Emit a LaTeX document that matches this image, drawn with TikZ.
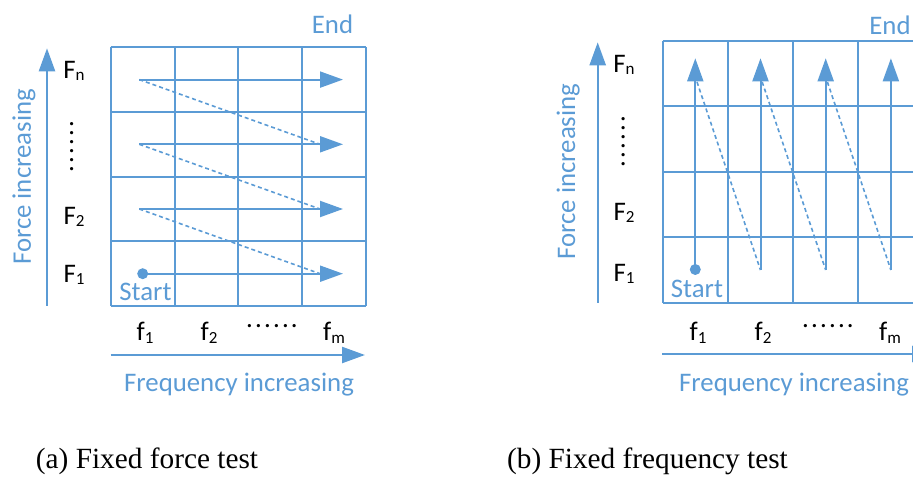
\documentclass[tikz,border=0pt]{standalone}
\usepackage{fontspec}
\setmainfont{Carlito}
\newfontfamily\capfont{Liberation Serif}
\usetikzlibrary{arrows.meta}
\definecolor{ob}{RGB}{91,155,213}
\newcommand{\sbs}[1]{\raisebox{-2.6pt}{\fontsize{17}{17}\selectfont #1}}
\begin{document}
\begin{tikzpicture}[x=1pt,y=-1pt,
 gridline/.style={ob,line width=2pt},
 flow/.style={ob,line width=2pt,-{Triangle[length=23pt,width=16pt]}},
 retline/.style={ob,line width=1.6pt,dash pattern=on 4pt off 3pt},
 axisline/.style={ob,line width=2.4pt,-{Triangle[length=23pt,width=16pt]}},
 bluetxt/.style={ob,font=\fontsize{26.8}{30}\selectfont,inner sep=0pt},
 lbl/.style={black,font=\fontsize{26.8}{30}\selectfont,inner sep=0pt},
 captxt/.style={black,font=\capfont\fontsize{29.3}{33}\selectfont,inner sep=0pt},
 dotnode/.style={circle,fill=ob,inner sep=0pt,minimum size=11pt}]
\useasboundingbox (0,0) rectangle (913,478);
\clip (0,0) rectangle (913,478);

% ================= (a) fixed force =================
\foreach \i in {0,...,4}{
  \draw[gridline] ({110.7+\i*63.8},47.3) -- ({110.7+\i*63.8},306);
  \draw[gridline] (110.7,{47.3+\i*64.7}) -- (366,{47.3+\i*64.7});
}
\node[dotnode] (aS) at (142.7,273.7) {};
\coordinate (aE1) at (343,273.7);
\coordinate (aB2) at (139.3,209);   \coordinate (aE2) at (343,209);
\coordinate (aB3) at (139.3,144.3); \coordinate (aE3) at (343,144.3);
\coordinate (aB4) at (139.3,79.6);  \coordinate (aE4) at (343,79.6);
\coordinate (aH1) at (320,273.7);
\coordinate (aH2) at (320,209);
\coordinate (aH3) at (320,144.3);
\draw[flow] (aS.center) -- (aE1);
\draw[flow] (aB2) -- (aE2);
\draw[flow] (aB3) -- (aE3);
\draw[flow] (aB4) -- (aE4);
\draw[retline] (aB2) -- (aH1);
\draw[retline] (aB3) -- (aH2);
\draw[retline] (aB4) -- (aH3);
\node[bluetxt] (aStart) at (145.5,291.7) {Start};
\node[bluetxt] (aEnd) at (332.5,24) {End};

\coordinate (aY0) at (47,306); \coordinate (aY1) at (47,48.3);
\draw[axisline] (aY0) -- (aY1);
\node[bluetxt,rotate=90] (aYl) at (24,177) {Force increasing};
\node[lbl] (aFn) at (74,71) {F\sbs{n}};
\node[lbl,rotate=90] (aFd) at (71.7,146.5) {.\kern2.2pt.\kern2.2pt.\kern2.2pt.\kern2.2pt.\kern2.2pt.};
\node[lbl] (aF2) at (74,217) {F\sbs{2}};
\node[lbl] (aF1) at (74,275) {F\sbs{1}};

\coordinate (aX0) at (110.7,355); \coordinate (aX1) at (365,355);
\draw[axisline] (aX0) -- (aX1);
\node[lbl] (af1) at (145,333) {f\sbs{1}};
\node[lbl] (af2) at (209,333) {f\sbs{2}};
\node[lbl] (afd) at (272,326) {.\kern2.2pt.\kern2.2pt.\kern2.2pt.\kern2.2pt.\kern2.2pt.};
\node[lbl] (afm) at (334,333) {f\sbs{m}};
\node[bluetxt] (aXl) at (239,385) {Frequency increasing};

\node[captxt] (capa) at (147,461) {(a) Fixed force test};

% ================= (b) fixed frequency =================
\foreach \i in {0,...,4}{
  \draw[gridline] ({662.7+\i*65.2},41) -- ({662.7+\i*65.2},302.6);
  \draw[gridline] (662.7,{41+\i*65.4}) -- (923.5,{41+\i*65.4});
}
\node[dotnode] (bS) at (695.3,269.5) {};
\coordinate (bT1) at (695.3,58.3);
\coordinate (bB2) at (760.5,270);  \coordinate (bT2) at (760.5,58.3);
\coordinate (bB3) at (825.7,270);  \coordinate (bT3) at (825.7,58.3);
\coordinate (bB4) at (890.9,270);  \coordinate (bT4) at (890.9,58.3);
\coordinate (bH1) at (697,82);
\coordinate (bH2) at (762.2,82);
\coordinate (bH3) at (827.4,82);
\draw[flow] (bS.center) -- (bT1);
\draw[flow] (bB2) -- (bT2);
\draw[flow] (bB3) -- (bT3);
\draw[flow] (bB4) -- (bT4);
\draw[retline] (bH1) -- (bB2);
\draw[retline] (bH2) -- (bB3);
\draw[retline] (bH3) -- (bB4);
\node[bluetxt] (bStart) at (697,289) {Start};
\node[bluetxt] (bEnd) at (890,25) {End};

\coordinate (bY0) at (597.7,302.7); \coordinate (bY1) at (597.7,42.3);
\draw[axisline] (bY0) -- (bY1);
\node[bluetxt,rotate=90] (bYl) at (568.3,171.7) {Force increasing};
\node[lbl] (bFn) at (624,65) {F\sbs{n}};
\node[lbl,rotate=90] (bFd) at (623.3,141.5) {.\kern2.2pt.\kern2.2pt.\kern2.2pt.\kern2.2pt.\kern2.2pt.};
\node[lbl] (bF2) at (624,213) {F\sbs{2}};
\node[lbl] (bF1) at (624,274) {F\sbs{1}};

\coordinate (bX0) at (662,354); \coordinate (bX1) at (935,354);
\draw[axisline] (bX0) -- (bX1);
\node[lbl] (bf1) at (698,333) {f\sbs{1}};
\node[lbl] (bf2) at (763,333) {f\sbs{2}};
\node[lbl] (bfd) at (828,326) {.\kern2.2pt.\kern2.2pt.\kern2.2pt.\kern2.2pt.\kern2.2pt.};
\node[lbl] (bfm) at (890,333) {f\sbs{m}};
\node[bluetxt] (bXl) at (794,385) {Frequency increasing};

\node[captxt] (capb) at (647.5,461) {(b) Fixed frequency test};
\end{tikzpicture}
\end{document}
